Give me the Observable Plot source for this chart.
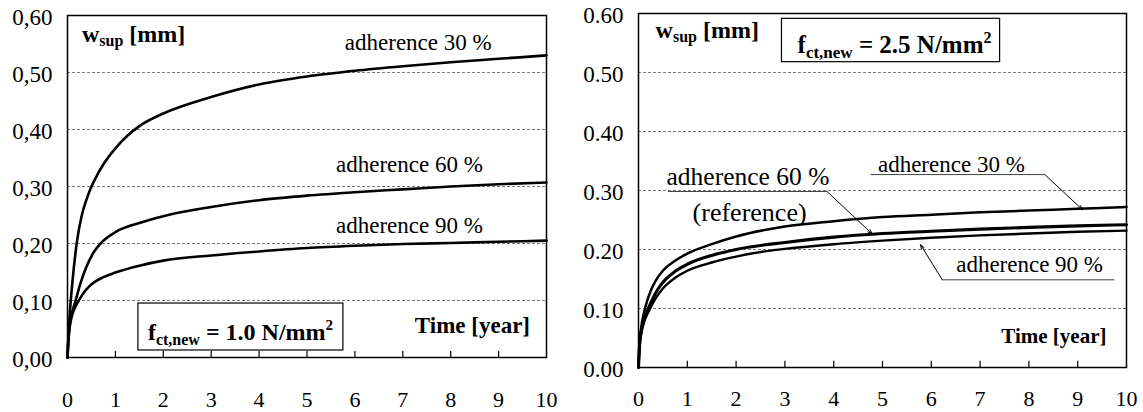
<!DOCTYPE html>
<html><head><meta charset="utf-8">
<script src="https://cdn.jsdelivr.net/npm/d3@7"></script>
<script src="https://cdn.jsdelivr.net/npm/@observablehq/plot@0.6"></script>
<style>
html,body{margin:0;padding:0;background:#fff;}
#wrap{position:relative;width:1143px;height:412px;overflow:hidden;font-family:'Liberation Serif';}
#left{position:absolute;left:0;top:0;}
#right{position:absolute;left:570px;top:0;}
svg, svg text, svg tspan{font-family:'Liberation Serif' !important;}
svg text{white-space:pre;}
</style></head><body><div id="wrap"><div id="left"></div><div id="right"></div></div>
<script>
const FONT = "Liberation Serif";

// ---- axis ticks ----
const xTicks = [0,1,2,3,4,5,6,7,8,9,10];
const yTicks = [0,0.1,0.2,0.3,0.4,0.5,0.6];
const gridY = [0.1,0.2,0.3,0.4,0.5];

// ---- left panel: f_ct,new = 1.0 N/mm2 ----
const tL30 = [0,0.02,0.05,0.1,0.2,0.3,0.4,0.5,0.6,0.75,1,1.25,1.5,2,3,4,5,6,7,8,9,10];
const wL30 = [0,0.04,0.08,0.13,0.205,0.25,0.278,0.30,0.317,0.339,0.367,0.389,0.406,0.428,0.457,0.479,0.493,0.503,0.511,0.518,0.524,0.530];
const tL60 = [0,0.02,0.05,0.1,0.17,0.27,0.4,0.55,0.7,1,1.5,2,3,4,5,6,7,8,9,10];
const wL60 = [0,0.035,0.06,0.08,0.10,0.13,0.16,0.185,0.201,0.22,0.236,0.248,0.264,0.276,0.284,0.290,0.295,0.300,0.304,0.307];
const tL90 = [0,0.02,0.05,0.1,0.17,0.25,0.35,0.48,0.75,1,1.5,2,3,4,5,6,7,8,9,10];
const wL90 = [0,0.03,0.055,0.075,0.09,0.102,0.115,0.127,0.141,0.149,0.161,0.170,0.179,0.186,0.192,0.196,0.199,0.201,0.203,0.205];

// ---- right panel: f_ct,new = 2.5 N/mm2 ----
const tR30 = [0,0.02,0.05,0.1,0.15,0.25,0.35,0.5,0.75,1,1.5,2,3,4,5,6,7,8,9,10];
const wR30 = [0,0.04,0.065,0.088,0.105,0.13,0.147,0.164,0.181,0.193,0.209,0.222,0.239,0.248,0.255,0.259,0.263,0.266,0.269,0.272];
const tR60 = [0,0.02,0.05,0.1,0.2,0.3,0.4,0.55,0.75,1,1.5,2,3,4,5,6,7,8,9,10];
const wR60 = [0,0.035,0.058,0.077,0.10,0.118,0.133,0.149,0.163,0.175,0.190,0.200,0.212,0.221,0.227,0.231,0.2345,0.2375,0.240,0.242];
const tR90 = [0,0.02,0.05,0.1,0.24,0.35,0.5,0.75,1,1.5,2,2.7,3,4,5,6,7,8,9,10];
const wR90 = [0,0.033,0.055,0.073,0.10,0.117,0.134,0.152,0.164,0.178,0.188,0.198,0.201,0.209,0.215,0.220,0.224,0.227,0.230,0.232];

const seriesNames = ["adherence 30 %","adherence 60 %","adherence 90 %"];

function rows(ts, ws, name){ return ts.map((t,i)=>({t, w: ws[i], series: name})); }

const leftSeries = [rows(tL30,wL30,seriesNames[0]), rows(tL60,wL60,seriesNames[1]), rows(tL90,wL90,seriesNames[2])];
const rightSeries = [rows(tR30,wR30,seriesNames[0]), rows(tR60,wR60,seriesNames[1]), rows(tR90,wR90,seriesNames[2])];

// annotation geometry (data units)
const leftBox = [{x1:1.48,x2:5.76,y1:0.0123,y2:0.0947}];
const rightBox = [{x1:2.94,x2:7.41,y1:0.5175,y2:0.591}];
const rightUnder = [
  {x1:0.606,x2:3.864,y1:0.2983,y2:0.2983},
  {x1:4.754,x2:8.326,y1:0.327,y2:0.327},
  {x1:6.226,x2:9.749,y1:0.1486,y2:0.1486}
];
const rightArrows = [
  {x1:3.864,y1:0.2983,x2:4.788,y2:0.2266},
  {x1:8.326,y1:0.327,x2:9.10,y2:0.2673},
  {x1:6.226,y1:0.1486,x2:5.78,y2:0.208}
];

function panel({series, widths, width, marginLeft, marginRight, marginTop, marginBottom, xPad, fmt, box, extra}){
  return Plot.plot({
    width, height: 412, marginLeft, marginRight, marginTop, marginBottom,
    x: {domain:[0,10], label:null},
    y: {domain:[0,0.6], label:null},
    style: {fontFamily: FONT, background: "white", color: "#000", overflow: "visible"},
    marks: [
      Plot.ruleY(gridY, {stroke:"#7a7a7a", strokeWidth:1, strokeDasharray:"3,2"}),
      Plot.ruleX(xTicks.slice(1,-1), {y1:0, y2:0.0105, stroke:"#000", strokeWidth:1.2}),
      Plot.axisX({ticks:xTicks, tickSize:0, tickPadding:xPad, fontSize:22, tickFormat:d=>String(d), label:null}),
      Plot.axisY({ticks:yTicks, tickSize:0, tickPadding:15, fontSize:23, dy:2, tickFormat:fmt, label:null}),
      Plot.rect(box, {x1:"x1",x2:"x2",y1:"y1",y2:"y2", fill:"white", stroke:"#000", strokeWidth:1.2}),
      ...(extra||[]),
      ...series.map((s,i) => Plot.line(s, {x:"t", y:"w", stroke:"#000", strokeWidth:widths[i], curve:"monotone-x"})),
      Plot.frame({stroke:"#000", strokeWidth:1.5})
    ]
  });
}

const left = panel({series:leftSeries, widths:[2.6,2.6,2.6], width:570, marginLeft:67, marginRight:24, marginTop:15, marginBottom:55, xPad:34,
  fmt:d=>d.toFixed(2).replace(".", ","), box:leftBox});
const right = panel({series:rightSeries, widths:[2.5,3.1,2.4], width:573, marginLeft:68, marginRight:17, marginTop:13, marginBottom:45, xPad:23,
  fmt:d=>d.toFixed(2), box:rightBox,
  extra:[
    Plot.link(rightUnder, {x1:"x1",x2:"x2",y1:"y1",y2:"y2", stroke:"#444", strokeWidth:1}),
    Plot.arrow(rightArrows, {x1:"x1",y1:"y1",x2:"x2",y2:"y2", stroke:"#000", strokeWidth:1, headLength:7, headAngle:40})
  ]});

document.getElementById("left").appendChild(left);
document.getElementById("right").appendChild(right);

function rich(plot, t, w, parts, size, weight, anchor){
  const sx = plot.scale("x"), sy = plot.scale("y");
  const txt = d3.select(plot).append("text")
    .attr("x", sx.apply(t)).attr("y", sy.apply(w))
    .attr("font-size", size).attr("font-weight", weight||"normal")
    .attr("text-anchor", anchor||"start").attr("fill", "#000");
  parts.forEach(p => {
    const ts = txt.append("tspan").text(p.s);
    if (p.size) ts.attr("font-size", p.size);
    if (p.dy) ts.attr("dy", p.dy);
  });
}

// left annotations
rich(left, 0.313, 0.5526, [{s:"w"},{s:"sup",size:16,dy:4},{s:" [mm]",dy:-4}], 24, "bold");
rich(left, 5.80, 0.5386, [{s:"adherence 30 %"}], 23);
rich(left, 5.616, 0.3246, [{s:"adherence 60 %"}], 23);
rich(left, 5.616, 0.2175, [{s:"adherence 90 %"}], 23);
rich(left, 1.69, 0.0298, [{s:"f"},{s:"ct,new",size:16,dy:5},{s:" = 1.0 N/mm",dy:-5},{s:"2",size:15,dy:-10}], 24, "bold");
rich(left, 9.666, 0.0421, [{s:"Time [year]"}], 23, "bold", "end");

// right annotations
rich(right, 0.36, 0.5576, [{s:"w"},{s:"sup",size:16,dy:4},{s:" [mm]",dy:-4}], 24, "bold");
rich(right, 3.27, 0.532, [{s:"f"},{s:"ct,new",size:17,dy:5},{s:" = 2.5 N/mm",dy:-5},{s:"2",size:16,dy:-10}], 25, "bold");
rich(right, 0.585, 0.3085, [{s:"adherence 60 %"}], 25.5);
rich(right, 1.119, 0.2475, [{s:"(reference)"}], 26);
rich(right, 4.917, 0.331, [{s:"adherence 30 %"}], 23);
rich(right, 6.52, 0.1615, [{s:"adherence 90 %"}], 23);
rich(right, 9.60, 0.0407, [{s:"Time [year]"}], 21, "bold", "end");

d3.selectAll("#wrap svg, #wrap svg text, #wrap svg tspan").style("font-family", "'Liberation Serif'");
</script>
</body></html>
